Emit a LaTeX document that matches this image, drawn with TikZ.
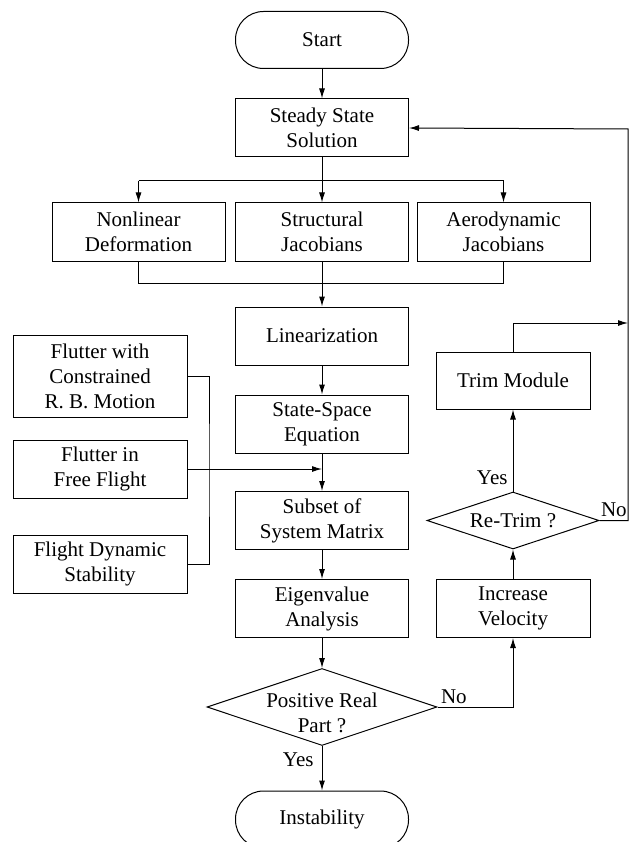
\documentclass[tikz,border=0pt]{standalone}
\usepackage{fontspec}
\setmainfont{LiberationSerif}[Extension=.ttf, UprightFont=*-Regular, BoldFont=*-Bold, ItalicFont=*-Italic, BoldItalicFont=*-BoldItalic]
\usetikzlibrary{shapes.geometric,arrows.meta}
\begin{document}
\begin{tikzpicture}[x=1pt,y=-1pt,
  txt/.style={font=\rmfamily\fontsize{21}{25}\selectfont},
  box/.style={txt, draw, line width=1pt, minimum width=173pt, minimum height=58pt, align=center, inner sep=1pt},
  term/.style={box, rounded corners=28pt, minimum height=57pt},
  dia/.style={draw, diamond, line width=1pt, inner sep=0pt, aspect=3},
  arr/.style={line width=1pt, -{Latex[length=10pt,width=6pt]}},
  ln/.style={line width=1pt},
  lbl/.style={txt, inner sep=0pt}]
\useasboundingbox (0,0) rectangle (631,842);
% main column
\node[term] (start) at (322,40) {Start};
\node[box] (steady) at (322,128) {Steady State\\Solution};
\node[box] (nonlin) at (138.5,232) {Nonlinear\\Deformation};
\node[box] (struct) at (322,232) {Structural\\Jacobians};
\node[box] (aero) at (503.5,232) {Aerodynamic\\Jacobians};
\node[box] (lin) at (322,336) {Linearization};
\node[box] (sse) at (322,424) {State-Space\\Equation};
\node[box] (subset) at (322,520.5) {Subset of\\System Matrix};
\node[box] (eig) at (322,608.5) {Eigenvalue\\Analysis};
\node[dia, minimum width=230pt, minimum height=77pt] (pos) at (322,707) {};
\node[lbl, align=center] (post) at (322,713) {Positive Real\\Part ?};
\node[term] (inst) at (322,819.5) {Instability};
% left column
\node[box, minimum width=174pt, minimum height=82pt] (fwc) at (100,376) {Flutter with\\Constrained\\R. B. Motion};
\node[box, minimum width=174pt] (fff) at (100,469) {Flutter in\\Free Flight};
\node[box, minimum width=174pt] (fds) at (100,564) {Flight Dynamic\\Stability};
% right column
\node[box, minimum width=154pt, minimum height=57pt] (trim) at (513,380.5) {Trim Module};
\node[dia, minimum width=172pt, minimum height=57pt] (retrim) at (513,520.5) {};
\node[lbl] (retrimt) at (513,520.5) {Re-Trim ?};
\node[box, minimum width=154pt] (incv) at (513,608.5) {Increase\\Velocity};
% coordinates
\coordinate (bl) at (138.5,181);
\coordinate (br) at (503.5,181);
\coordinate (m) at (322,283);
\coordinate (vb) at (209,470);
\coordinate (j) at (322,469);
\coordinate (tr) at (628,323);
\coordinate (rc) at (628,129);
% connectors
\draw[arr] (start) -- (steady);
\draw[arr] (steady) -- (struct);
\draw[ln] (bl) -- (br);
\draw[arr] (bl) -- (nonlin);
\draw[arr] (br) -- (aero);
\draw[ln] (nonlin.south) |- (aero.south |- m) -- (aero.south);
\draw[arr] (struct) -- (lin);
\draw[arr] (lin) -- (sse);
\draw[arr] (sse) -- (subset);
\draw[arr] (subset) -- (eig);
\draw[arr] (eig) -- (pos.north);
\draw[arr] (pos.south) -- node[lbl, anchor=east, pos=0.3, xshift=-8pt] {Yes} (inst);
\draw[arr] (pos.east) -| node[lbl, anchor=south west, pos=0, xshift=3pt, yshift=3pt] {No} (incv.south);
\draw[arr] (incv) -- (retrim.south);
\draw[arr] (retrim.north) -- node[lbl, anchor=east, pos=0.17, xshift=-5pt] {Yes} (trim);
\draw[arr] (trim.north) |- (tr);
\draw[arr] (retrim.east) -| node[lbl, anchor=south west, pos=0, xshift=1pt, yshift=3pt] {No} (rc) -- (steady.east);
\draw[ln] (fwc.east) -| (vb) |- (fds.east);
\draw[arr] (fff.east) -- (j);
\end{tikzpicture}
\end{document}
